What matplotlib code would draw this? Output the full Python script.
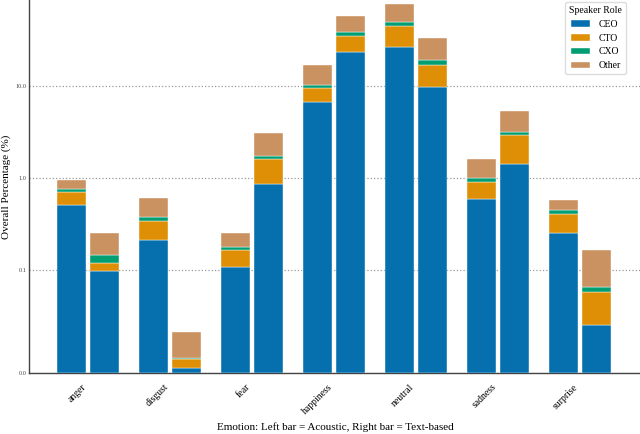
import matplotlib
matplotlib.use("Agg")
import matplotlib.pyplot as plt
import numpy as np
from matplotlib.ticker import FormatStrFormatter

plt.rcParams["font.family"] = "serif"
plt.rcParams["font.serif"] = ["Liberation Serif", "DejaVu Serif"]

emotions = ["anger", "disgust", "fear", "happiness", "neutral", "sadness", "surprise"]
roles = ["CEO", "CTO", "CXO", "Other"]
colors = ["#0570ad", "#de8f05", "#029e73", "#ca9161"]

# share of all utterances (%), left bar = acoustic model
acoustic = {
    "CEO":   [0.513, 0.213, 0.109, 6.70, 26.9, 0.596, 0.256],
    "CTO":   [0.191, 0.131, 0.057, 2.96, 18.3, 0.316, 0.153],
    "CXO":   [0.055, 0.036, 0.013, 0.64, 4.8, 0.095, 0.043],
    "Other": [0.207, 0.226, 0.074, 6.60, 29.0, 0.603, 0.129],
}
# right bar = text-based model
text_based = {
    "CEO":   [0.0996, 0.0049, 0.874, 23.4, 9.75, 1.43, 0.047],
    "CTO":   [0.022, 0.0086, 0.746, 11.8, 7.25, 1.55, 0.032],
    "CXO":   [0.026, 0.0008, 0.130, 3.7, 2.30, 0.23, 0.005],
    "Other": [0.111, 0.0257, 1.38, 19.2, 14.2, 2.14, 0.081],
}

fig = plt.figure(figsize=(6.4, 4.34), dpi=100)
ax = fig.add_axes([29.3 / 640, 61.3 / 434, 612.7 / 640, 372.7 / 434])

x = np.arange(len(emotions))
w = 0.35
d = 0.2

for data, offset in [(acoustic, -d), (text_based, d)]:
    bottom = np.zeros(len(emotions))
    for role, c in zip(roles, colors):
        vals = np.array(data[role])
        ax.bar(x + offset, vals, w, bottom=bottom, color=c,
               edgecolor="white", linewidth=0.3,
               label=role if offset < 0 else None, zorder=3)
        bottom += vals

ax.set_yscale("symlog", linthresh=0.1)
ax.set_ylim(0, 87)
ax.set_yticks([0, 0.1, 1, 10])
ax.yaxis.set_major_formatter(FormatStrFormatter("%.1f"))
ax.yaxis.set_minor_locator(matplotlib.ticker.NullLocator())
ax.set_xlim(-0.716, 6 + 62 / 82)
ax.set_xticks(x)
ax.set_xticklabels(emotions, rotation=45, ha="right", fontsize=7)
ax.tick_params(axis="y", length=0, pad=2, labelsize=4.5, colors="#444444")
ax.tick_params(axis="x", length=0, pad=7)

ax.grid(axis="y", linestyle=":", color="gray", linewidth=0.9, alpha=0.8, zorder=0)
ax.set_axisbelow(True)

for s in ["top", "right"]:
    ax.spines[s].set_visible(False)
for s in ["left", "bottom"]:
    ax.spines[s].set_color("#444444")
    ax.spines[s].set_linewidth(1.0)

ax.set_ylabel("Overall Percentage (%)", fontsize=8, labelpad=3)
ax.set_xlabel("Emotion: Left bar = Acoustic, Right bar = Text-based", fontsize=8)
ax.xaxis.set_label_coords((335 - 29.3) / 612.7, -0.134)

ax.legend(title="Speaker Role", loc="upper right", fontsize=7, title_fontsize=7,
          bbox_to_anchor=(626 / 640, 1 - 2 / 434), bbox_transform=fig.transFigure,
          borderaxespad=0, framealpha=1, edgecolor="#dddddd")

fig.savefig("out.png", dpi=100)
